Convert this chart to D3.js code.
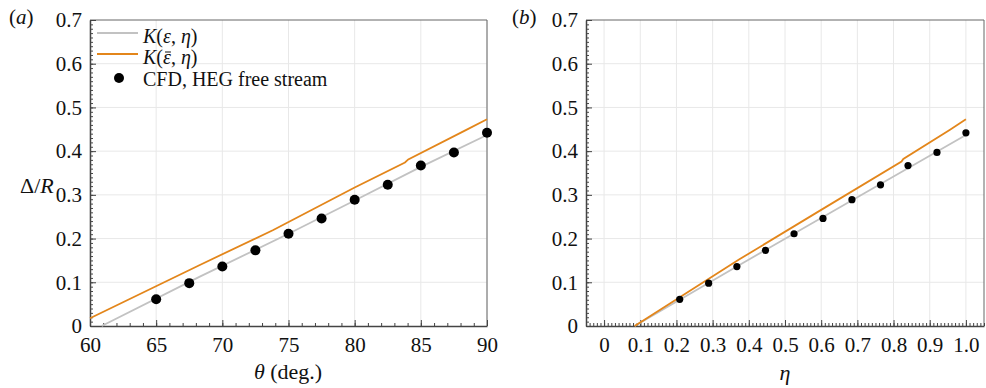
<!DOCTYPE html>
<html>
<head>
<meta charset="utf-8">
<script src="https://cdn.jsdelivr.net/npm/d3@7"></script>
<style>
  body { margin: 0; background: #fff; }
  svg text { font-family: "Liberation Serif", "DejaVu Serif", serif; fill: #111; }
</style>
</head>
<body>
<svg id="chart" width="986" height="388"></svg>
<script>
// CFD points (same Δ/R in both panels)
const thetaCFD = [65, 67.5, 70, 72.5, 75, 77.5, 80, 82.5, 85, 87.5, 90]
const etaCFD = [0.209, 0.289, 0.367, 0.446, 0.525, 0.605, 0.685, 0.764, 0.84, 0.92, 1.0]
const deltaCFD = [0.061, 0.098, 0.136, 0.173, 0.211, 0.246, 0.289, 0.323, 0.367, 0.397, 0.442]

// K(eps, eta) and K(eps-bar, eta) curves, panel (a)
const thetaK = [60.88, 68.3, 75, 80, 85, 90]
const kEpsA = [0, 0.113, 0.211, 0.287, 0.364, 0.437]
const thetaKbar = [60, 68.3, 73.85, 80, 83.8, 84.05, 88.4, 90]
const kEpsBarA = [0.0176, 0.1396, 0.2197, 0.317, 0.374, 0.381, 0.448, 0.473]

// panel (b)
const etaK = [0.0845, 0.374, 0.7, 1.0]
const kEpsB = [0, 0.1396, 0.2945, 0.437]
const etaKbar = [0.0845, 0.374, 0.6, 0.822, 0.827, 0.955, 1.0]
const kEpsBarB = [0, 0.1526, 0.2656, 0.376, 0.382, 0.4485, 0.473]

const yTicks = [0, 0.1, 0.2, 0.3, 0.4, 0.5, 0.6, 0.7]
const thetaTicks = [60, 65, 70, 75, 80, 85, 90]
const etaTicks = [0, 0.1, 0.2, 0.3, 0.4, 0.5, 0.6, 0.7, 0.8, 0.9, 1.0]

const greyColor = '#c2c2c2'
const orangeColor = '#e3861b'
const serif = '"Liberation Serif", "DejaVu Serif", serif'

const svg = d3.select('#chart')

function drawPanel(opt) {
  const { x, y, xTicks, xMinor, xFmt, label, labelX } = opt
  const g = svg.append('g')
  const [x0, x1] = x.range()
  const [y0, y1] = y.range()

  // grid
  g.append('g').selectAll('line').data(xTicks).join('line')
    .attr('x1', d => x(d)).attr('x2', d => x(d))
    .attr('y1', y0).attr('y2', y1)
    .attr('stroke', '#e8e8e8').attr('stroke-width', 1)
  g.append('g').selectAll('line').data(yTicks.slice(1, -1)).join('line')
    .attr('x1', x0).attr('x2', x1)
    .attr('y1', d => y(d)).attr('y2', d => y(d))
    .attr('stroke', '#e8e8e8').attr('stroke-width', 1)

  // frame top/right
  g.append('path')
    .attr('d', `M${x0},${y1}H${x1}V${y0}`)
    .attr('fill', 'none').attr('stroke', '#666').attr('stroke-width', 1)

  // minor ticks
  g.append('g').attr('transform', `translate(0,${y0})`)
    .call(d3.axisBottom(x).tickValues(xMinor).tickSize(-3).tickFormat(''))
    .call(s => s.select('.domain').remove())
    .call(s => s.selectAll('line').attr('stroke', '#444'))
  g.append('g').attr('transform', `translate(${x0},0)`)
    .call(d3.axisLeft(y).tickValues(d3.range(0, 71).map(i => i / 100)).tickSize(-3).tickFormat(''))
    .call(s => s.select('.domain').remove())
    .call(s => s.selectAll('line').attr('stroke', '#444'))

  // major axes
  const xa = g.append('g').attr('transform', `translate(0,${y0})`)
    .call(d3.axisBottom(x).tickValues(xTicks).tickSizeInner(-6).tickSizeOuter(0).tickPadding(10).tickFormat(xFmt))
  const ya = g.append('g').attr('transform', `translate(${x0},0)`)
    .call(d3.axisLeft(y).tickValues(yTicks).tickSizeInner(-6).tickSizeOuter(0).tickPadding(8)
      .tickFormat(d => d === 0 ? '0' : d3.format('.1f')(d)))
  for (const a of [xa, ya]) {
    a.attr('font-family', null).attr('font-size', null)
    a.select('.domain').attr('stroke', '#444').attr('stroke-width', 1.5)
    a.selectAll('.tick line').attr('stroke', '#444')
    a.selectAll('.tick text')
      .style('font-family', serif).style('font-size', '21px').style('fill', '#111')
  }
  xa.selectAll('.tick text').attr('dy', '0.75em')

  // curves
  const line = d3.line().x(d => x(d[0])).y(d => y(d[1]))
  g.append('path').datum(opt.grey).attr('d', line)
    .attr('fill', 'none').attr('stroke', greyColor).attr('stroke-width', 1.8)
  g.append('path').datum(opt.orange).attr('d', line)
    .attr('fill', 'none').attr('stroke', orangeColor).attr('stroke-width', 1.8)

  // CFD points
  g.append('g').selectAll('circle').data(opt.points).join('circle')
    .attr('cx', d => x(d[0])).attr('cy', d => y(d[1]))
    .attr('r', opt.r).attr('fill', '#000')

  // panel label
  svg.append('text').attr('x', labelX).attr('y', 24).style('font-size', '21px')
    .html(`(<tspan font-style="italic">${label}</tspan>)`)
}

const yA = d3.scaleLinear().domain([0, 0.7]).range([326, 20])
const xA = d3.scaleLinear().domain([60, 90]).range([90, 487])
drawPanel({
  x: xA, y: yA, xTicks: thetaTicks, xMinor: d3.range(60, 91), xFmt: d3.format('d'),
  grey: d3.zip(thetaK, kEpsA), orange: d3.zip(thetaKbar, kEpsBarA),
  points: d3.zip(thetaCFD, deltaCFD), r: 5, label: 'a', labelX: 9
})

const yB = d3.scaleLinear().domain([0, 0.7]).range([326, 20])
const xB = d3.scaleLinear().domain([-0.05, 1.05]).range([586, 984])
drawPanel({
  x: xB, y: yB, xTicks: etaTicks, xMinor: d3.range(-5, 106).map(i => i / 100),
  xFmt: d => d === 0 ? '0' : d3.format('.1f')(d),
  grey: d3.zip(etaK, kEpsB), orange: d3.zip(etaKbar, kEpsBarB),
  points: d3.zip(etaCFD, deltaCFD), r: 3.6, label: 'b', labelX: 512
})

// axis titles
svg.append('text').attr('x', 288).attr('y', 379).attr('text-anchor', 'middle').style('font-size', '22px')
  .html('<tspan font-style="italic">θ</tspan> (deg.)')
svg.append('text').attr('x', 785).attr('y', 380).attr('text-anchor', 'middle').style('font-size', '22px')
  .attr('font-style', 'italic').text('η')
svg.append('text').attr('x', 20).attr('y', 193).style('font-size', '22px')
  .html('Δ/<tspan font-style="italic">R</tspan>')

// legend
const legend = svg.append('g')
const legendItems = [
  { html: '<tspan font-style="italic">K</tspan>(<tspan font-style="italic">ε</tspan>, <tspan font-style="italic">η</tspan>)', color: greyColor, y: 43, bar: false },
  { html: '<tspan font-style="italic">K</tspan>(<tspan font-style="italic">ε</tspan>, <tspan font-style="italic">η</tspan>)', color: orangeColor, y: 64, bar: true },
  { html: 'CFD, HEG free stream', color: null, y: 86, bar: false }
]
legendItems.forEach(d => {
  if (d.color) {
    legend.append('line').attr('x1', 97).attr('x2', 138).attr('y1', d.y - 10).attr('y2', d.y - 10)
      .attr('stroke', d.color).attr('stroke-width', 1.8)
  } else {
    legend.append('circle').attr('cx', 119).attr('cy', d.y - 8).attr('r', 5).attr('fill', '#000')
  }
  const t = legend.append('text').attr('x', 143).attr('y', d.y).style('font-size', '20px').html(d.html)
  if (d.bar) {
    // bar over epsilon (char index 2)
    const b = t.node().getExtentOfChar(2)
    legend.append('line')
      .attr('x1', b.x + 2).attr('x2', b.x + b.width)
      .attr('y1', d.y - 12).attr('y2', d.y - 12)
      .attr('stroke', '#111').attr('stroke-width', 1)
  }
})
</script>
</body>
</html>
